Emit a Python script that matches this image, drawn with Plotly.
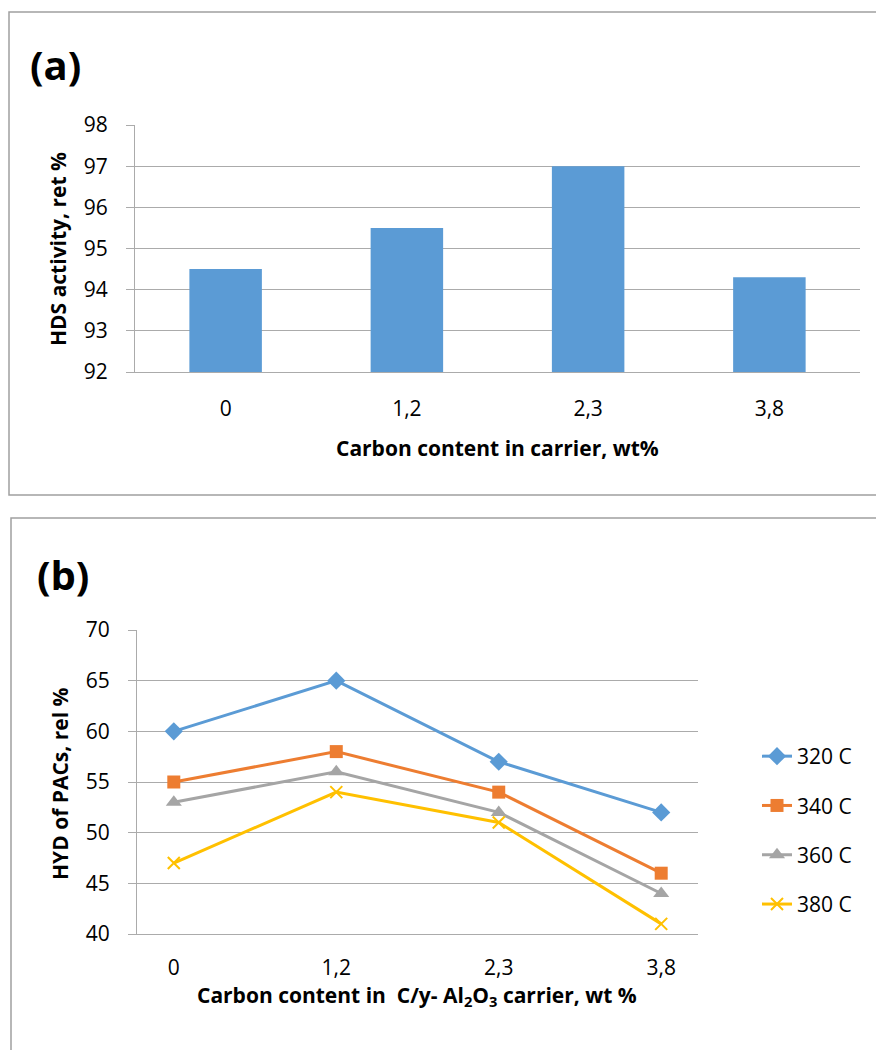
import plotly.graph_objects as go

# ---- data ----
carbon_a = ["0", "1,2", "2,3", "3,8"]
hds_activity = [94.5, 95.5, 97.0, 94.3]

carbon_b = ["0", "1,2", "2,3", "3,8"]
series_names = ["320 C", "340 C", "360 C", "380 C"]
hyd_320 = [60, 65, 57, 52]
hyd_340 = [55, 58, 54, 46]
hyd_360 = [53, 56, 52, 44]
hyd_380 = [47, 54, 51, 41]

W, H = 876, 1050
FONT = "Open Sans"
GRID = "#ABABAB"

def px(x):
    return x / W

# empirical vertical mapping of the rendered page
Y0, HH = 14.0, 1022.0

def py(y):
    return 1 - (y - Y0) / HH

fig = go.Figure()

fig.add_trace(go.Bar(x=carbon_a, y=hds_activity, marker=dict(color="#5B9BD5", line=dict(width=0)),
                     showlegend=False, xaxis="x", yaxis="y"))

styles = [
    dict(color="#5B9BD5", symbol="diamond", size=14, lw=0),
    dict(color="#ED7D31", symbol="square", size=13, lw=0),
    dict(color="#A5A5A5", symbol="triangle-up", size=14, lw=0),
    dict(color="#FFC000", symbol="x-thin-open", size=12, lw=2),
]
for i, (name, vals) in enumerate(zip(series_names, [hyd_320, hyd_340, hyd_360, hyd_380])):
    s = styles[i]
    mk = dict(symbol=s["symbol"], size=s["size"], color=s["color"])
    if s["lw"]:
        mk["line"] = dict(color=s["color"], width=s["lw"])
    fig.add_trace(go.Scatter(x=carbon_b, y=vals, name=name, mode="lines+markers",
                             line=dict(color=s["color"], width=3), marker=mk,
                             legendgroup=name, xaxis="x2", yaxis="y2"))

tickfont = dict(family=FONT, size=21, color="#000000")

fig.update_layout(
    width=W, height=H, autosize=False,
    margin=dict(l=0, r=0, t=0, b=0),
    paper_bgcolor="white", plot_bgcolor="white",
    bargap=0.6,
    showlegend=True,
    legend=dict(x=px(757), y=py(735), xanchor="left", yanchor="top",
                font=dict(family=FONT, size=21, color="#000000"),
                traceorder="grouped", tracegroupgap=19, bgcolor="rgba(0,0,0,0)"),
    xaxis=dict(domain=[px(135), px(860)], anchor="y", type="category",
               showgrid=False, showline=True, linecolor=GRID, linewidth=1.3,
               ticks="", tickfont=tickfont, ticklabelstandoff=18),
    yaxis=dict(domain=[py(371), py(124)], anchor="x", range=[92, 98], dtick=1,
               showgrid=True, gridcolor=GRID, gridwidth=1.3,
               showline=True, linecolor=GRID, linewidth=1.3,
               ticks="outside", ticklen=8, tickcolor=GRID, tickwidth=1.3,
               tickfont=tickfont, ticklabelstandoff=14, zeroline=False),
    xaxis2=dict(domain=[px(137), px(698)], anchor="y2", type="category",
                showgrid=False, showline=True, linecolor=GRID, linewidth=1.3,
                ticks="", tickfont=tickfont, ticklabelstandoff=15),
    yaxis2=dict(domain=[py(933), py(629)], anchor="x2", range=[40, 70], dtick=5,
                showgrid=True, gridcolor=GRID, gridwidth=1.3,
                showline=True, linecolor=GRID, linewidth=1.3,
                ticks="outside", ticklen=8, tickcolor=GRID, tickwidth=1.3,
                tickfont=tickfont, ticklabelstandoff=14, zeroline=False),
)

# panel borders
fig.add_shape(type="rect", xref="paper", yref="paper",
              x0=px(9), x1=px(900), y0=py(494), y1=py(11),
              line=dict(color="#A0A0A0", width=1.5), fillcolor="rgba(0,0,0,0)", layer="below")
fig.add_shape(type="rect", xref="paper", yref="paper",
              x0=px(11), x1=px(900), y0=py(1100), y1=py(517),
              line=dict(color="#A0A0A0", width=1.5), fillcolor="rgba(0,0,0,0)", layer="below")

titlefont = dict(family=FONT, size=21, color="#000000")
ann = [
    dict(text="<b>(a)</b>", x=px(28), y=py(64), xanchor="left", yanchor="middle",
         font=dict(family=FONT, size=40, color="#000000")),
    dict(text="<b>(b)</b>", x=px(35), y=py(573), xanchor="left", yanchor="middle",
         font=dict(family=FONT, size=40, color="#000000")),
    dict(text="<b>HDS activity, ret %</b>", x=px(58), y=py(248), textangle=-90,
         xanchor="center", yanchor="middle", font=titlefont),
    dict(text="<b>Carbon content in carrier, wt%</b>", x=px(497), y=py(447),
         xanchor="center", yanchor="middle", font=titlefont),
    dict(text="<b>HYD of PACs, rel %</b>", x=px(60), y=py(783), textangle=-90,
         xanchor="center", yanchor="middle", font=titlefont),
    dict(text="<b>Carbon content in \u00a0C/y- Al<sub>2</sub>O<sub>3</sub> carrier, wt %</b>",
         x=px(417), y=py(995), xanchor="center", yanchor="middle", font=titlefont),
]
for a in ann:
    fig.add_annotation(xref="paper", yref="paper", showarrow=False, **a)

fig.write_html("out.html")
